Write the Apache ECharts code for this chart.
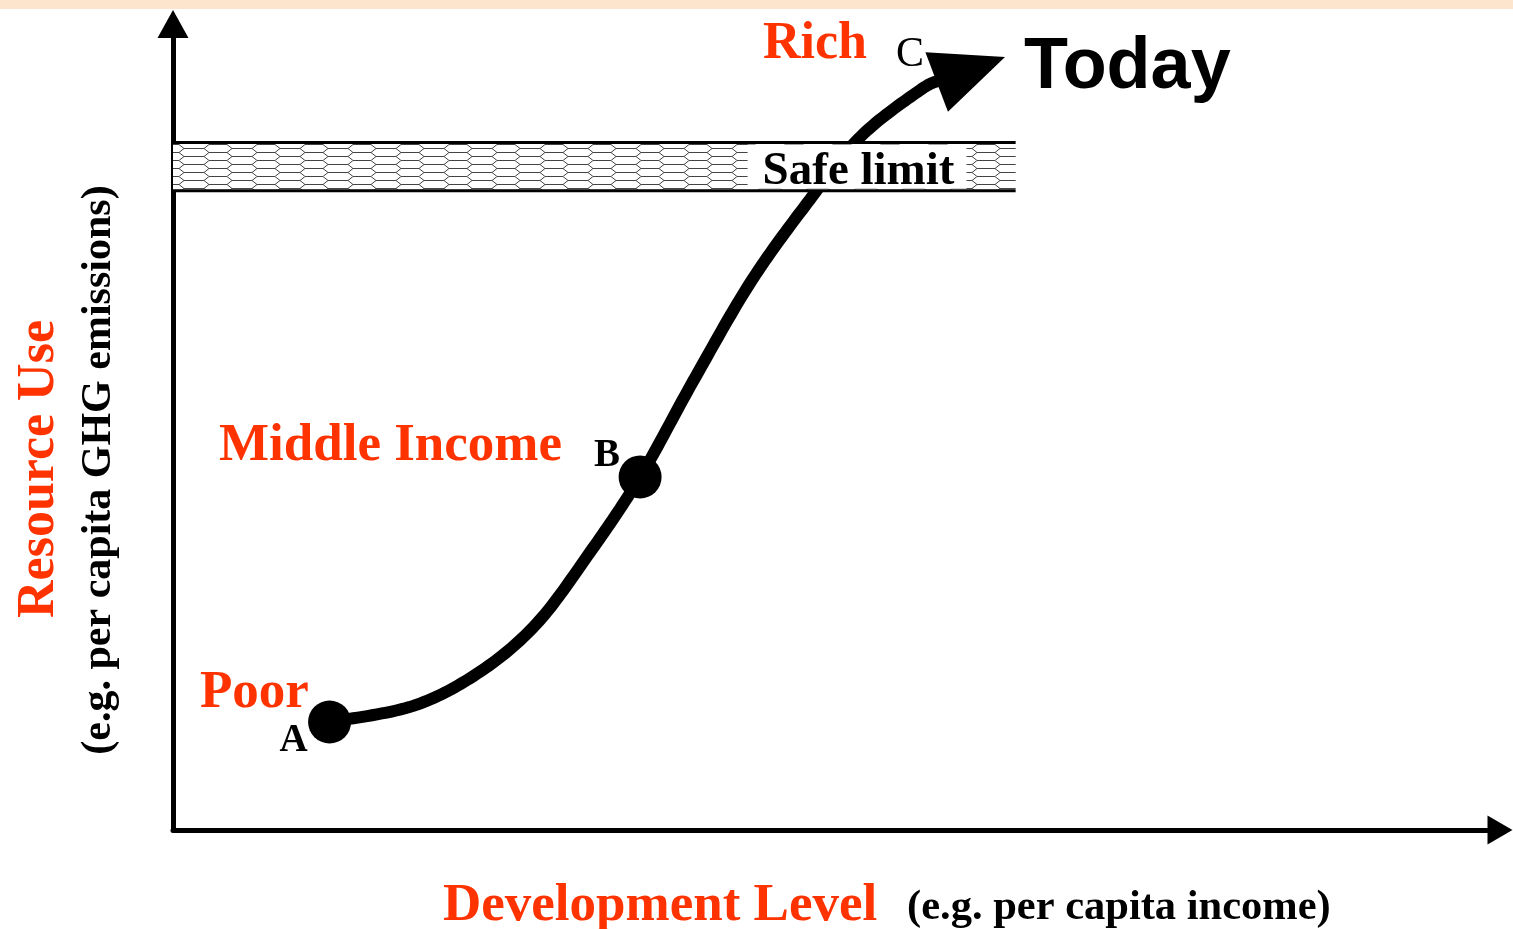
<!DOCTYPE html>
<html>
<head>
<meta charset="utf-8">
<title>Resource use vs development level</title>
<script src="https://cdn.jsdelivr.net/npm/echarts@6/dist/echarts.min.js"></script>
<style>
html, body { margin: 0; padding: 0; background: #fff; }
#main { width: 1513px; height: 929px; }
</style>
</head>
<body>
<div id="main"></div>
<script>
// both axes are unitless, 0 - 100
// S-curve from poor to rich
var curveX = [11.8, 18.1, 23.1, 27.4, 31.4, 35.2, 39.2, 43.5, 47.8, 51.8, 56.3, 57.8];
var curveY = [13.4, 15.4, 19.6, 25.6, 34.4, 43.8, 55.7, 67.9, 77.8, 86.0, 91.8, 93.0];
// arrow head at the end ("Today")
var arrowX = [56.7, 62.7, 58.4];
var arrowY = [96.5, 95.9, 89.1];
// marked stages
var stageNames = ['A', 'B'];
var stageX = [11.8, 35.2];
var stageY = [13.4, 43.8];
// safe limit band: [bottom, top], where it stops, and where its label sits
var safeLimit = [79.3, 85.3];
var safeLimitEnd = 63.5;
var safeLabelSpan = [43.3, 59.8];

var red = '#FF3300';
var serif = '"Liberation Serif", "Times New Roman", serif';

// small mesh tile for the hatched band
function meshTile() {
    var c = document.createElement('canvas');
    c.width = 48; c.height = 16;
    var g = c.getContext('2d');
    g.fillStyle = '#fff';
    g.fillRect(0, 0, 48, 16);
    g.strokeStyle = '#444';
    g.lineWidth = 1;
    g.beginPath();
    [4, 12].forEach(function (yc) {
        var x0 = 12;
        g.moveTo(x0, yc + 0.5); g.lineTo(x0 + 5, yc - 3.5); g.lineTo(x0 + 23, yc - 3.5); g.lineTo(x0 + 28, yc + 0.5);
        g.moveTo(x0, yc + 0.5); g.lineTo(x0 + 5, yc + 4.5); g.lineTo(x0 + 23, yc + 4.5); g.lineTo(x0 + 28, yc + 0.5);
        g.moveTo(x0 + 28, yc + 0.5); g.lineTo(48, yc + 0.5);
        g.moveTo(0, yc + 0.5); g.lineTo(x0, yc + 0.5);
    });
    g.stroke();
    return c;
}
var tile = meshTile();

// Catmull-Rom through pixel points, returned as a dense polyline for drawing
function splinePoints(p) {
    var out = [p[0]];
    var n = p.length;
    for (var i = 0; i < n - 1; i++) {
        var a = p[Math.max(i - 1, 0)], b = p[i], c = p[i + 1], d = p[Math.min(i + 2, n - 1)];
        var c1 = [b[0] + (c[0] - a[0]) / 6, b[1] + (c[1] - a[1]) / 6];
        var c2 = [c[0] - (d[0] - b[0]) / 6, c[1] - (d[1] - b[1]) / 6];
        for (var k = 1; k <= 20; k++) {
            var t = k / 20, u = 1 - t;
            out.push([
                u * u * u * b[0] + 3 * u * u * t * c1[0] + 3 * u * t * t * c2[0] + t * t * t * c[0],
                u * u * u * b[1] + 3 * u * u * t * c1[1] + 3 * u * t * t * c2[1] + t * t * t * c[1]
            ]);
        }
    }
    return out;
}

var myChart = echarts.init(document.getElementById('main'));

var option = {
    animation: false,
    backgroundColor: '#fff',
    grid: { left: 173, right: 13, top: 24, bottom: 99, containLabel: false, outerBoundsMode: 'none' },
    xAxis: {
        type: 'value', min: 0, max: 100,
        axisLabel: { show: false }, axisTick: { show: false }, splitLine: { show: false },
        axisLine: { show: true, onZero: false, symbol: ['none', 'triangle'], symbolSize: [29, 25],
            lineStyle: { color: '#000', width: 5 } }
    },
    yAxis: {
        type: 'value', min: 0, max: 100,
        axisLabel: { show: false }, axisTick: { show: false }, splitLine: { show: false },
        axisLine: { show: true, onZero: false, symbol: ['none', 'triangle'], symbolSize: [31, 28],
            lineStyle: { color: '#000', width: 5 } }
    },
    graphic: [
        { type: 'rect', left: 0, top: 0, shape: { width: 1513, height: 9 }, style: { fill: '#FDE4CD' } },
        { type: 'text', x: 763, y: 45, style: { text: 'Rich', font: 'bold 52px ' + serif, fill: red, align: 'left', verticalAlign: 'middle' } },
        { type: 'text', x: 896, y: 55, style: { text: 'C', font: '42px ' + serif, fill: '#000', align: 'left', verticalAlign: 'middle' } },
        { type: 'text', x: 1024, y: 68, style: { text: 'Today', font: 'bold 72px "Liberation Sans", Arial, sans-serif', fill: '#000', align: 'left', verticalAlign: 'middle' } },
        { type: 'text', x: 219, y: 446, style: { text: 'Middle Income', font: 'bold 53px ' + serif, fill: red, align: 'left', verticalAlign: 'middle' } },
        { type: 'text', x: 200, y: 693, style: { text: 'Poor', font: 'bold 53px ' + serif, fill: red, align: 'left', verticalAlign: 'middle' } },
        { type: 'text', x: 443, y: 906, style: { text: 'Development Level', font: 'bold 53px ' + serif, fill: red, align: 'left', verticalAlign: 'middle' } },
        { type: 'text', x: 907, y: 908, style: { text: '(e.g. per capita income)', font: 'bold 42.5px ' + serif, fill: '#000', align: 'left', verticalAlign: 'middle' } },
        { type: 'text', x: 40, y: 469, rotation: Math.PI / 2, style: { text: 'Resource Use', font: 'bold 52px ' + serif, fill: red, align: 'center', verticalAlign: 'middle' } },
        { type: 'text', x: 99, y: 470, rotation: Math.PI / 2, style: { text: '(e.g. per capita GHG emissions)', font: 'bold 42px ' + serif, fill: '#000', align: 'center', verticalAlign: 'middle' } }
    ],
    series: [
        {
            // the path through the read points
            name: 'path', type: 'custom', z: 2,
            data: curveX.map(function (x, i) { return [x, curveY[i]]; }),
            renderItem: function (params, api) {
                if (params.dataIndex !== 0) return;
                var p = curveX.map(function (x, i) { return api.coord([x, curveY[i]]); });
                return {
                    type: 'polyline',
                    shape: { points: splinePoints(p) },
                    style: { stroke: '#000', lineWidth: 12, fill: null, lineCap: 'round', lineJoin: 'round' }
                };
            }
        },
        {
            name: 'arrow', type: 'custom', z: 3,
            data: [[arrowX[1], arrowY[1]]],
            renderItem: function (params, api) {
                var pts = arrowX.map(function (x, i) { return api.coord([x, arrowY[i]]); });
                return { type: 'polygon', shape: { points: pts }, style: { fill: '#000' } };
            }
        },
        {
            name: 'stages', type: 'scatter', symbolSize: 43, z: 4,
            itemStyle: { color: '#000', opacity: 1 },
            data: stageX.map(function (x, i) {
                return {
                    value: [x, stageY[i]], name: stageNames[i],
                    label: { offset: i === 0 ? [-36, 19] : [-33, -21] }
                };
            }),
            label: {
                show: true, position: 'inside', formatter: '{b}',
                color: '#000', opacity: 1, fontFamily: serif, fontWeight: 'bold', fontSize: 39
            }
        },
        {
            name: 'safe limit', type: 'custom', z: 5,
            data: [[0, safeLimit[0], safeLimitEnd, safeLimit[1]]],
            renderItem: function (params, api) {
                var tl = api.coord([api.value(0), api.value(3)]);
                var br = api.coord([api.value(2), api.value(1)]);
                var l0 = api.coord([safeLabelSpan[0], 0])[0];
                var l1 = api.coord([safeLabelSpan[1], 0])[0];
                return {
                    type: 'group',
                    children: [
                        { type: 'rect', shape: { x: tl[0], y: tl[1], width: br[0] - tl[0], height: br[1] - tl[1] },
                          style: { fill: { image: tile, repeat: 'repeat' } } },
                        { type: 'rect', shape: { x: l0, y: tl[1] + 2, width: l1 - l0, height: br[1] - tl[1] - 4 },
                          style: { fill: '#fff' } },
                        { type: 'line', shape: { x1: tl[0], y1: tl[1], x2: br[0], y2: tl[1] }, style: { stroke: '#000', lineWidth: 3 } },
                        { type: 'line', shape: { x1: tl[0], y1: br[1], x2: br[0], y2: br[1] }, style: { stroke: '#000', lineWidth: 3 } },
                        { type: 'text', style: { text: 'Safe limit', x: l0 + 15, y: (tl[1] + br[1]) / 2 + 5,
                          font: 'bold 47px ' + serif, fill: '#000', align: 'left', verticalAlign: 'middle' } }
                    ]
                };
            }
        }
    ]
};

myChart.setOption(option);
</script>
</body>
</html>
